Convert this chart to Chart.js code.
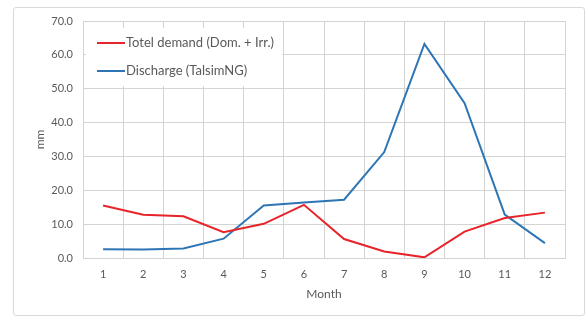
<!DOCTYPE html>
<html>
<head>
<meta charset="utf-8">
<script src="https://cdn.jsdelivr.net/npm/chart.js@4.4.1/dist/chart.umd.min.js"></script>
<style>
  html, body { margin: 0; padding: 0; background: #fff; }
  #wrap { position: relative; width: 587px; height: 320px; }
  #frame { position: absolute; left: 13px; top: 7px; width: 572px; height: 309px;
           border: 1px solid #d9d9d9; border-radius: 3px; box-sizing: border-box; }
  canvas { position: absolute; left: 0; top: 0; }
</style>
</head>
<body>
<div id="wrap">
  <div id="frame"></div>
  <canvas id="chart" width="587" height="320"></canvas>
</div>
<script>
var months = ['1', '2', '3', '4', '5', '6', '7', '8', '9', '10', '11', '12'];
var demand = [15.5, 12.8, 12.3, 7.6, 10.1, 15.7, 5.6, 1.9, 0.2, 7.8, 11.8, 13.4];
var discharge = [2.6, 2.5, 2.8, 5.7, 15.5, 16.4, 17.2, 31.3, 63.2, 45.7, 12.8, 4.4];
var seriesNames = ['Totel demand (Dom. + Irr.)', 'Discharge (TalsimNG)'];
var seriesColors = ['#e8232a', '#2e75b6'];

var font = 'Lato, "Open Sans", sans-serif';
var grey = '#595959';

// legend sits inside the plot area on a white box
var innerLegend = {
  id: 'innerLegend',
  afterDraw: function (chart) {
    var ctx = chart.ctx;
    var area = chart.chartArea;
    ctx.save();
    ctx.fillStyle = '#fff';
    ctx.fillRect(area.left + 3, 28, 196, 58);
    ctx.font = '13px ' + font;
    ctx.textBaseline = 'middle';
    ctx.fillStyle = grey;
    chart.data.datasets.forEach(function (ds, i) {
      var y = 43 + i * 28;
      ctx.strokeStyle = ds.borderColor;
      ctx.lineWidth = 2;
      ctx.beginPath();
      ctx.moveTo(area.left + 14, y);
      ctx.lineTo(area.left + 42, y);
      ctx.stroke();
      ctx.fillText(ds.label, area.left + 43, y);
    });
    ctx.restore();
  }
};

new Chart(document.getElementById('chart'), {
  type: 'line',
  data: {
    labels: months,
    datasets: [
      { label: seriesNames[0], data: demand, borderColor: seriesColors[0], borderWidth: 2,
        pointRadius: 0, tension: 0, fill: false },
      { label: seriesNames[1], data: discharge, borderColor: seriesColors[1], borderWidth: 2,
        pointRadius: 0, tension: 0, fill: false }
    ]
  },
  options: {
    responsive: false,
    animation: false,
    layout: { padding: { top: 21, right: 22, bottom: 0, left: 0 } },
    plugins: { legend: { display: false }, tooltip: { enabled: false } },
    scales: {
      x: {
        offset: true,
        grid: { color: '#d4d4d4', offset: true, drawTicks: false },
        border: { color: '#d4d4d4' },
        ticks: { color: grey, font: { family: font, size: 11 }, padding: 10 },
        title: { display: true, text: 'Month', color: grey, font: { family: font, size: 12 },
                 padding: { top: 0, bottom: 19 } },
        afterFit: function (scale) { scale.height = 62; }
      },
      y: {
        min: 0, max: 70,
        grid: { color: '#d4d4d4', drawTicks: false },
        border: { display: false },
        ticks: { stepSize: 10, color: grey, font: { family: font, size: 11 }, padding: 10,
                 callback: function (v) { return v.toFixed(1); } },
        title: { display: true, text: 'mm', color: grey, font: { family: font, size: 12 },
                 padding: { top: 33, bottom: 0 } },
        afterFit: function (scale) { scale.width = 83; }
      }
    }
  },
  plugins: [innerLegend]
});
</script>
</body>
</html>
